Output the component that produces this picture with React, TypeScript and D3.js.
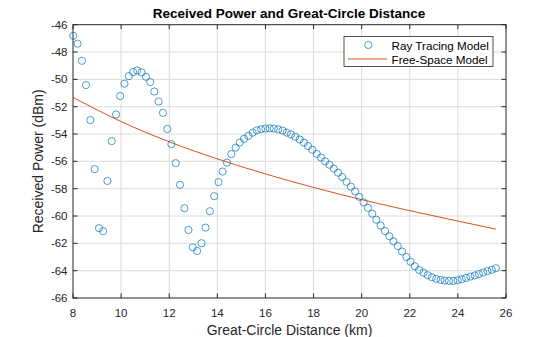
import React from "react";
import * as d3 from "d3";

const distanceKm = [
  8.01, 8.19, 8.37, 8.54, 8.72, 8.9, 9.08, 9.25, 9.43, 9.61,
  9.79, 9.96, 10.14, 10.32, 10.5, 10.67, 10.85, 11.03, 11.21, 11.38,
  11.56, 11.74, 11.92, 12.09, 12.27, 12.45, 12.63, 12.8, 12.98, 13.16,
  13.34, 13.51, 13.69, 13.87, 14.05, 14.22, 14.4, 14.58, 14.76, 14.93,
  15.11, 15.29, 15.47, 15.64, 15.82, 16.0, 16.18, 16.35, 16.53, 16.71,
  16.89, 17.06, 17.24, 17.42, 17.6, 17.77, 17.95, 18.13, 18.31, 18.48,
  18.66, 18.84, 19.02, 19.19, 19.37, 19.55, 19.73, 19.9, 20.08, 20.26,
  20.44, 20.61, 20.79, 20.97, 21.15, 21.32, 21.5, 21.68, 21.86, 22.03,
  22.21, 22.39, 22.57, 22.74, 22.92, 23.1, 23.28, 23.45, 23.63, 23.81,
  23.99, 24.16, 24.34, 24.52, 24.7, 24.87, 25.05, 25.23, 25.41, 25.58,
];

const rayTracingPower = [
  -46.81, -47.39, -48.64, -50.42, -52.98, -56.57, -60.89, -61.11, -57.43, -54.52,
  -52.57, -51.22, -50.32, -49.76, -49.47, -49.35, -49.49, -49.81, -50.2, -50.89,
  -51.62, -52.45, -53.63, -54.74, -56.13, -57.72, -59.43, -61.02, -62.29, -62.56,
  -61.99, -60.85, -59.65, -58.55, -57.52, -56.75, -56.09, -55.47, -55.0, -54.62,
  -54.35, -54.13, -53.9, -53.73, -53.65, -53.6, -53.58, -53.6, -53.66, -53.75,
  -53.9, -54.03, -54.2, -54.4, -54.63, -54.88, -55.15, -55.45, -55.72, -56.0,
  -56.25, -56.53, -56.83, -57.15, -57.5, -57.85, -58.2, -58.6, -59.0, -59.4,
  -59.83, -60.27, -60.7, -61.1, -61.48, -61.85, -62.2, -62.6, -63.0, -63.35,
  -63.68, -63.95, -64.15, -64.33, -64.48, -64.6, -64.68, -64.73, -64.75, -64.75,
  -64.7, -64.63, -64.53, -64.43, -64.35, -64.25, -64.13, -64.03, -63.93, -63.82,
];

const freeSpaceDist = [8, 10, 12, 14, 16, 18, 20, 22, 24, 25.58];
const freeSpacePower = [-51.32, -53.09, -54.57, -55.82, -56.92, -57.91, -58.8, -59.61, -60.37, -60.96];

const xTicks = [8, 10, 12, 14, 16, 18, 20, 22, 24, 26];
const yTicks = [-46, -48, -50, -52, -54, -56, -58, -60, -62, -64, -66];

const titleText = "Received Power and Great-Circle Distance";
const xLabelText = "Great-Circle Distance (km)";
const yLabelText = "Received Power (dBm)";
const legendLabels = ["Ray Tracing Model", "Free-Space Model"];

const W = 560;
const H = 337;
const L = 73;
const R = 506;
const T = 24.7;
const B = 298;

const axisColor = "#262626";
const gridColor = "#dcdcdc";
const blue = "#0072BD";
const orange = "#D95319";
const font = "'Liberation Sans', Arial, Helvetica, sans-serif";

export default function App() {
  const x = d3.scaleLinear().domain([8, 26]).range([L, R]);
  const y = d3.scaleLinear().domain([-66, -46]).range([B, T]);

  const fsLine = d3
    .line<number>()
    .x((_, i) => x(freeSpaceDist[i]))
    .y((d) => y(d))
    .curve(d3.curveMonotoneX);

  const tickLen = 4.5;

  return (
    <svg
      width={W}
      height={H}
      style={{ position: "fixed", left: 0, top: 0, background: "#fff" }}
      fontFamily={font}
    >
      <rect x={0} y={0} width={W} height={H} fill="#fff" />
      {/* grid */}
      {xTicks.slice(1, -1).map((t) => (
        <line key={"gx" + t} x1={x(t)} x2={x(t)} y1={T} y2={B} stroke={gridColor} strokeWidth={1} />
      ))}
      {yTicks.slice(1, -1).map((t) => (
        <line key={"gy" + t} x1={L} x2={R} y1={y(t)} y2={y(t)} stroke={gridColor} strokeWidth={1} />
      ))}

      {/* free space line */}
      <path d={fsLine(freeSpacePower) || ""} fill="none" stroke={orange} strokeWidth={1} />

      {/* ray tracing markers */}
      {rayTracingPower.map((p, i) => (
        <circle
          key={"m" + i}
          cx={x(distanceKm[i])}
          cy={y(p)}
          r={3.6}
          fill="none"
          stroke={blue}
          strokeWidth={0.7}
        />
      ))}

      {/* box */}
      <rect x={L} y={T} width={R - L} height={B - T} fill="none" stroke={axisColor} strokeWidth={1} />

      {/* ticks */}
      {xTicks.map((t) => (
        <g key={"xt" + t}>
          <line x1={x(t)} x2={x(t)} y1={B} y2={B - tickLen} stroke={axisColor} />
          <line x1={x(t)} x2={x(t)} y1={T} y2={T + tickLen} stroke={axisColor} />
          <text x={x(t)} y={B + 19} textAnchor="middle" fontSize={11.5} fill={axisColor}>
            {t}
          </text>
        </g>
      ))}
      {yTicks.map((t) => (
        <g key={"yt" + t}>
          <line x1={L} x2={L + tickLen} y1={y(t)} y2={y(t)} stroke={axisColor} />
          <line x1={R} x2={R - tickLen} y1={y(t)} y2={y(t)} stroke={axisColor} />
          <text x={L - 5.5} y={y(t) + 4} textAnchor="end" fontSize={11.5} fill={axisColor}>
            {t}
          </text>
        </g>
      ))}

      {/* title and labels */}
      <text x={(L + R) / 2 - 0.5} y={18} textAnchor="middle" fontSize={13.5} fontWeight="bold" fill="#000">
        {titleText}
      </text>
      <text x={(L + R) / 2} y={335} textAnchor="middle" fontSize={14} fill={axisColor}>
        {xLabelText}
      </text>
      <text
        transform={`translate(43, ${(T + B) / 2}) rotate(-90)`}
        textAnchor="middle"
        fontSize={14}
        fill={axisColor}
      >
        {yLabelText}
      </text>

      {/* legend */}
      <rect x={344} y={36.5} width={149} height={30} fill="#fff" stroke={axisColor} strokeWidth={0.8} />
      <circle cx={368.3} cy={45} r={3.6} fill="none" stroke={blue} strokeWidth={0.7} />
      <text x={391.5} y={49.5} fontSize={11.7} fill="#000">
        {legendLabels[0]}
      </text>
      <line x1={348} x2={387} y1={59} y2={59} stroke={orange} strokeWidth={1} />
      <text x={391.5} y={63.5} fontSize={11.7} fill="#000">
        {legendLabels[1]}
      </text>
    </svg>
  );
}
